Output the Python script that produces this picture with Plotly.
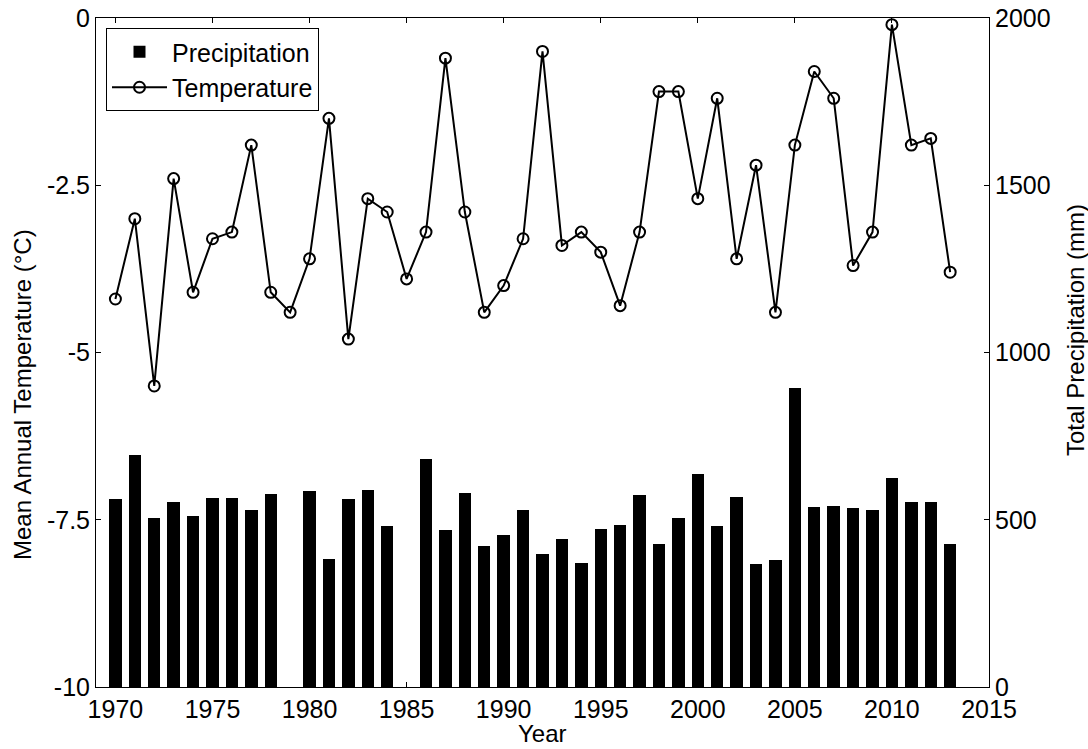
import plotly.graph_objects as go

years = list(range(1970, 2014))

temperature = [-4.2, -3.0, -5.5, -2.4, -4.1, -3.3, -3.2, -1.9, -4.1, -4.4,
               -3.6, -1.5, -4.8, -2.7, -2.9, -3.9, -3.2, -0.6, -2.9, -4.4,
               -4.0, -3.3, -0.5, -3.4, -3.2, -3.5, -4.3, -3.2, -1.1, -1.1,
               -2.7, -1.2, -3.6, -2.2, -4.4, -1.9, -0.8, -1.2, -3.7, -3.2,
               -0.1, -1.9, -1.8, -3.8]

precipitation = [561, 693, 506, 553, 510, 565, 565, 530, 577, None,
                 585, 384, 561, 589, 482, None, 681, 469, 580, 421,
                 453, 530, 397, 441, 372, 473, 485, 573, 429, 505,
                 637, 481, 568, 369, 380, 895, 537, 541, 534, 529,
                 625, 553, 553, 429]

x_ticks = list(range(1970, 2020, 5))
temp_ticks = [-10, -7.5, -5, -2.5, 0]
temp_tick_text = ["-10", "-7.5", "-5", "-2.5", "0"]
precip_ticks = [0, 500, 1000, 1500, 2000]

FONT = "Arial, Liberation Sans, sans-serif"
FS = 25
W, H = 1088, 749
L, R, T, B = 96, 99, 18, 62

fig = go.Figure()
fig.add_trace(go.Bar(
    x=years, y=precipitation, name="Precipitation",
    marker=dict(color="black", line=dict(width=0)),
    width=0.64, yaxis="y",
))
fig.add_trace(go.Scatter(
    x=years, y=temperature, name="Temperature",
    mode="lines+markers",
    line=dict(color="black", width=2),
    marker=dict(symbol="circle-open", size=11, color="black",
                line=dict(width=2, color="black")),
    yaxis="y2",
))

pw = W - L - R
ph = H - T - B

fig.update_layout(
    width=W, height=H,
    margin=dict(l=L, r=R, t=T, b=B, pad=0, autoexpand=False),
    paper_bgcolor="white", plot_bgcolor="white",
    font=dict(family=FONT, size=FS, color="black"),
    showlegend=True,
    legend=dict(
        x=(106 - L) / pw, y=1 - (28 - T) / ph,
        xanchor="left", yanchor="top",
        bgcolor="white", bordercolor="black", borderwidth=1,
        font=dict(family=FONT, size=FS, color="black"),
        tracegroupgap=0, itemwidth=55,
    ),
    xaxis=dict(
        range=[1969, 2015], tickmode="array", tickvals=x_ticks,
        ticks="inside", ticklen=5, tickcolor="black",
        showline=True, linecolor="black", linewidth=1, mirror="ticks",
        showgrid=False, zeroline=False, automargin=False,
        tickfont=dict(family=FONT, size=FS, color="black"),
    ),
    yaxis=dict(
        side="right", range=[0, 2000], tickmode="array", tickvals=precip_ticks,
        ticks="inside", ticklen=5, tickcolor="black",
        showline=True, linecolor="black", linewidth=1,
        showgrid=False, zeroline=False, automargin=False,
        tickfont=dict(family=FONT, size=FS, color="black"),
    ),
    yaxis2=dict(
        overlaying="y", side="left", range=[-10, 0], tickmode="array",
        tickvals=temp_ticks, ticktext=temp_tick_text,
        ticks="inside", ticklen=5, tickcolor="black",
        showline=True, linecolor="black", linewidth=1,
        showgrid=False, zeroline=False, automargin=False,
        tickfont=dict(family=FONT, size=FS, color="black"),
    ),
    bargap=0,
)

fig.add_annotation(text="Year", xref="paper", yref="paper",
                   x=0.5, y=-(733 - T - ph) / ph, showarrow=False,
                   font=dict(family=FONT, size=24, color="black"),
                   xanchor="center", yanchor="middle")
fig.add_annotation(text="Mean Annual Temperature (°C)", xref="paper", yref="paper",
                   x=(22 - L) / pw, y=1 - (395 - T) / ph, textangle=-90,
                   showarrow=False, font=dict(family=FONT, size=24, color="black"),
                   xanchor="center", yanchor="middle")
fig.add_annotation(text="Total Precipitation (mm)", xref="paper", yref="paper",
                   x=(1075 - L) / pw, y=1 - (330 - T) / ph, textangle=-90,
                   showarrow=False, font=dict(family=FONT, size=24, color="black"),
                   xanchor="center", yanchor="middle")

fig.write_html("out.html")
